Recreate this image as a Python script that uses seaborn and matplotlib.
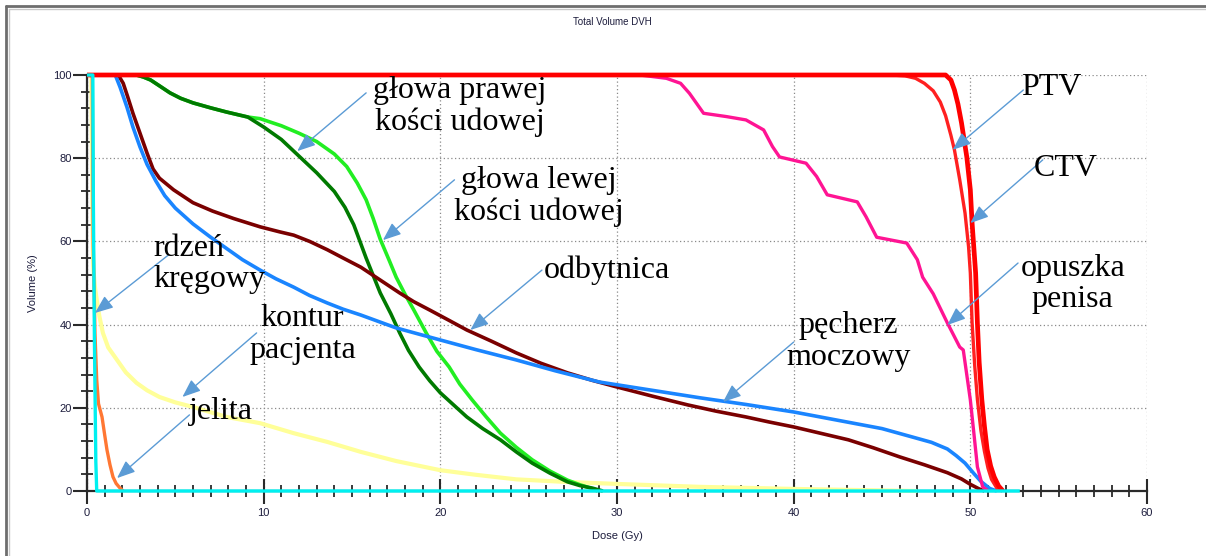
import matplotlib
matplotlib.use("Agg")
import matplotlib.pyplot as plt
from matplotlib.lines import Line2D
from matplotlib.ticker import MultipleLocator
import seaborn as sns

# Cumulative dose-volume histograms: dose (Gy) vs. volume (%) per structure
ptv_dose = [0, 45.5, 46.3, 46.9, 47.4, 47.9, 48.3, 48.6, 48.9, 49.1, 49.4, 49.7, 49.9, 50.0,
            50.1, 50.25, 50.4, 50.6, 50.8, 51.0, 51.2, 51.6]
ptv_vol = [100, 100, 99.8, 99.2, 98.0, 96.2, 93.5, 90.2, 85.5, 82.0, 74.8, 66.8, 58.7, 52.4,
           40.4, 30.0, 22.0, 14.5, 9.5, 5.5, 2.8, 0]

ctv_dose = [0, 48.6, 48.9, 49.1, 49.3, 49.5, 49.8, 50.0, 50.1, 50.3, 50.4, 50.5, 50.65, 50.8,
            50.95, 51.15, 51.35, 51.6, 51.85]
ctv_vol = [100, 100, 98.8, 96.4, 93.0, 88.5, 80.3, 72.4, 64.4, 52.4, 40.4, 31.0, 22.0, 15.5,
           10.0, 6.0, 3.4, 1.2, 0]

bulb_dose = [0, 31.3, 32.8, 33.6, 34.1, 34.5, 34.9, 36.2, 37.3, 38.3, 38.8, 39.2, 40.7, 41.3,
             41.9, 43.6, 44.1, 44.7, 46.4, 47.0, 47.3, 47.9, 48.7, 49.4, 49.6, 50.0, 50.2, 50.4,
             50.7, 51.0]
bulb_vol = [100, 100, 99.2, 98.0, 95.6, 93.2, 90.8, 90.0, 89.2, 86.8, 82.8, 80.3, 78.8, 75.6,
            71.2, 69.5, 65.9, 61.0, 59.6, 55.6, 51.4, 47.4, 40.4, 34.6, 33.9, 21.9, 13.9, 5.8,
            1.0, 0]

bladder_dose = [0, 1.6, 1.87, 2.26, 2.6, 3.0, 3.4, 3.9, 4.4, 5.0, 6.0, 7.0, 7.9, 8.8, 9.8, 10.7,
                11.7, 12.6, 13.6, 14.5, 15.5, 17.5, 20.0, 22.0, 24.3, 26.5, 29.0, 32.0, 34.7,
                37.3, 40.0, 43.0, 45.0, 46.7, 47.8, 48.7, 49.2, 49.7, 50.2, 50.6, 51.1, 51.5]
bladder_vol = [100, 100, 97.1, 92.3, 87.5, 82.7, 78.5, 74.5, 71.0, 68.0, 64.2, 61.0, 58.3, 55.6,
               53.1, 51.0, 49.0, 47.0, 45.2, 43.7, 42.3, 39.2, 36.3, 34.0, 31.5, 28.9, 26.2,
               24.2, 22.4, 20.8, 19.0, 16.6, 15.0, 13.0, 11.7, 10.1, 8.5, 6.7, 4.2, 2.3, 0.6, 0]

rectum_dose = [0, 1.77, 2.05, 2.3, 2.6, 3.0, 3.4, 3.74, 4.1, 4.9, 6.0, 7.1, 8.3, 9.8, 10.9, 11.7,
               12.6, 13.6, 14.5, 15.5, 16.6, 17.7, 18.5, 19.4, 20.5, 21.5, 22.9, 24.3, 25.7,
               27.2, 28.6, 30.0, 32.0, 34.0, 35.6, 37.3, 38.6, 40.0, 41.5, 43.1, 44.5, 46.0,
               47.4, 48.7, 49.5, 50.0, 50.5, 50.8]
rectum_vol = [100, 100, 98.0, 94.8, 90.8, 86.0, 81.2, 77.4, 75.2, 72.4, 69.3, 67.3, 65.5, 63.5,
              62.3, 61.5, 60.0, 58.0, 56.0, 53.8, 50.7, 47.6, 45.5, 43.5, 41.0, 38.7, 36.0,
              33.2, 30.7, 28.4, 26.6, 25.0, 22.8, 20.7, 19.2, 17.8, 16.6, 15.4, 13.9, 12.3,
              10.4, 8.2, 6.3, 4.4, 2.9, 1.6, 0.5, 0]

femur_r_dose = [0, 2.8, 3.2, 3.6, 4.1, 4.7, 5.3, 6.0, 7.0, 7.9, 9.1, 10.0, 11.0, 12.0, 13.0,
                14.0, 14.6, 15.1, 15.8, 16.6, 17.2, 17.7, 18.2, 18.8, 19.4, 20.0, 20.8, 21.5,
                22.4, 23.4, 24.3, 25.2, 26.2, 27.2, 27.9, 28.6, 29.2]
femur_r_vol = [100, 100, 99.5, 98.8, 97.4, 95.7, 94.4, 93.3, 92.1, 91.1, 89.9, 87.5, 84.5, 80.5,
               76.5, 72.0, 68.2, 64.0, 56.0, 47.6, 42.6, 38.0, 33.8, 29.8, 26.5, 23.6, 20.5,
               17.8, 15.0, 12.3, 9.4, 6.7, 4.3, 2.2, 1.3, 0.7, 0]

femur_l_dose = [0, 2.8, 3.2, 3.6, 4.1, 4.7, 5.3, 6.0, 7.0, 7.9, 9.1, 9.8, 11.0, 12.0, 13.0, 14.0,
                14.7, 15.3, 15.8, 16.2, 16.6, 17.1, 17.5, 18.0, 18.5, 19.2, 19.8, 20.5, 21.1,
                21.8, 22.6, 23.4, 24.3, 25.2, 26.2, 27.2, 27.9, 28.5, 28.9]
femur_l_vol = [100, 100, 99.5, 98.8, 97.4, 95.7, 94.4, 93.3, 92.1, 91.1, 89.9, 89.5, 87.8, 86.0,
               84.0, 81.0, 78.0, 74.0, 70.0, 65.5, 60.5, 55.5, 51.4, 47.3, 43.5, 38.0, 33.6,
               29.8, 25.7, 21.9, 17.8, 13.9, 10.5, 7.5, 4.8, 2.6, 1.5, 0.7, 0]

body_dose = [0, 0.25, 0.3, 0.35, 0.45, 0.55, 0.7, 0.9, 1.2, 1.7, 2.2, 2.8, 3.4, 4.1, 5.0, 6.0,
             7.9, 9.8, 11.7, 13.6, 15.5, 17.5, 20.0, 22.0, 24.3, 27.0, 30.0, 34.7, 40.0, 47.0]
body_vol = [100, 100, 70, 54, 49, 46, 42, 38, 34.5, 31.5, 28.5, 26.0, 24.2, 22.6, 21.3, 20.2,
            17.8, 16.3, 13.9, 11.8, 9.4, 7.2, 5.0, 3.9, 2.8, 2.2, 1.7, 1.0, 0.5, 0]

bowel_dose = [0, 0.3, 0.35, 0.45, 0.55, 0.65, 0.85, 1.0, 1.13, 1.3, 1.47, 1.65, 1.87, 2.05]
bowel_vol = [100, 100, 60, 38, 26.7, 21.0, 17.8, 13.5, 9.9, 6.3, 3.4, 1.8, 0.7, 0]

cord_dose = [0, 0.33, 0.36, 0.42, 0.5, 0.55, 52.8]
cord_vol = [100, 100, 70, 36, 7, 0, 0]

# (dose, volume, colour, line width, z-order)
curves = [
    (body_dose, body_vol, "#ffff99", 3.0, 2),
    (bowel_dose, bowel_vol, "#ff7733", 2.4, 3),
    (femur_l_dose, femur_l_vol, "#22ee22", 2.6, 4),
    (femur_r_dose, femur_r_vol, "#007a00", 2.6, 5),
    (rectum_dose, rectum_vol, "#7a0000", 2.6, 6),
    (bladder_dose, bladder_vol, "#1a85ff", 2.6, 7),
    (bulb_dose, bulb_vol, "#ff1493", 2.4, 8),
    (ptv_dose, ptv_vol, "#ff2020", 2.4, 9),
    (ctv_dose, ctv_vol, "#ff0000", 3.4, 10),
    (cord_dose, cord_vol, "#00f0f0", 2.4, 11),
]

# Labels: (text, text position, arrow tail, arrow head, horizontal alignment)
labels = [
    ("głowa prawej\nkości udowej", (21.1, 92.4), (15.8, 95.7), (11.9, 81.7), "center"),
    ("głowa lewej\nkości udowej", (25.6, 70.8), (20.8, 74.8), (16.75, 60.3), "center"),
    ("odbytnica", (29.4, 53.1), (25.75, 53.1), (21.7, 38.7), "center"),
    ("rdzeń\nkręgowy", (3.74, 54.6), (4.6, 56.7), (0.45, 42.8), "left"),
    ("kontur\npacjenta", (12.2, 37.6), (9.6, 38.0), (5.4, 22.6), "center"),
    ("jelita", (7.6, 19.0), (5.8, 18.3), (1.7, 3.1), "center"),
    ("pęcherz\nmoczowy", (43.1, 35.9), (40.0, 35.8), (36.0, 21.4), "center"),
    ("PTV", (54.6, 96.9), (53.0, 96.4), (49.0, 82.0), "center"),
    ("CTV", (55.4, 77.6), (54.1, 79.6), (50.0, 64.4), "center"),
    ("opuszka\npenisa", (55.8, 49.8), (52.7, 54.8), (48.7, 39.9), "center"),
]

x_major, x_minor = 10, 1
y_major, y_minor = 20, 4

sns.set_theme(style="ticks")
plt.rcParams["font.family"] = ["Liberation Sans", "DejaVu Sans"]

W, H, DPI = 1206, 556, 100
fig = plt.figure(figsize=(W / DPI, H / DPI), dpi=DPI)
fig.patch.set_facecolor("white")
ax = fig.add_axes([87 / W, 1 - 491 / H, (1147 - 87) / W, (491 - 75) / H])
ax.set_facecolor("white")

for dose, vol, color, lw, z in curves:
    sns.lineplot(x=dose, y=vol, ax=ax, color=color, linewidth=lw, sort=False,
                 estimator=None, zorder=z, clip_on=False,
                 solid_joinstyle="round", solid_capstyle="butt")

ax.set_xlim(0, 60)
ax.set_ylim(0, 100)
ax.xaxis.set_major_locator(MultipleLocator(x_major))
ax.xaxis.set_minor_locator(MultipleLocator(x_minor))
ax.yaxis.set_major_locator(MultipleLocator(y_major))
ax.yaxis.set_minor_locator(MultipleLocator(y_minor))

ax.grid(True, which="major", linestyle=(0, (1, 2)), color="#8a8a8a", linewidth=0.9, zorder=0)
ax.grid(False, which="minor")
ax.set_axisbelow(True)

for side in ("top", "right"):
    ax.spines[side].set_visible(False)
for side in ("left", "bottom"):
    ax.spines[side].set_color("#2a2a2a")
    ax.spines[side].set_linewidth(1.6)
    ax.spines[side].set_zorder(1)

tick_color = "#1c1c3c"
ax.tick_params(axis="x", which="major", direction="inout", length=18, width=1.5,
               color="#2a2a2a", labelsize=8, labelcolor=tick_color, pad=3)
ax.tick_params(axis="x", which="minor", direction="inout", length=9, width=1.3, color="#2a2a2a")
ax.tick_params(axis="y", which="major", direction="out", length=10, width=1.5,
               color="#2a2a2a", labelsize=8, labelcolor=tick_color, pad=1)
ax.tick_params(axis="y", which="minor", direction="inout", length=8, width=1.3, color="#2a2a2a")

ax.set_xlabel("Dose (Gy)", fontsize=8, color=tick_color)
ax.set_ylabel("Volume (%)", fontsize=8, color=tick_color)
ax.xaxis.set_label_coords(0.5, -(531 - 491) / 416)
ax.yaxis.set_label_coords((38 - 87) / 1060, 0.5)

fig.text(612 / W, 1 - 22 / H, "Total Volume DVH", fontsize=7, color=tick_color,
         ha="center", va="center")

arrow_color = "#5b9bd5"
for text, pos, tail, head, ha in labels:
    ax.annotate("", xy=head, xytext=tail, annotation_clip=False,
                arrowprops=dict(arrowstyle="-|>,head_length=0.55,head_width=0.22",
                                color=arrow_color, lw=1.0, mutation_scale=20,
                                shrinkA=0, shrinkB=0), zorder=20)
    ax.text(pos[0], pos[1], text, fontsize=23, family=["Liberation Serif", "DejaVu Serif"],
            ha=ha, va="center", multialignment="center" if ha == "center" else "left",
            linespacing=1.12, color="black", clip_on=False, zorder=21)

# window frame along the left and top edges
for coords, col, lw in [(([6, 6], [0, H - 6]), "#6e6e6e", 2.0),
                        (([6, W], [H - 6, H - 6]), "#6e6e6e", 2.0),
                        (([9, 9], [0, H - 9]), "#c8c8c8", 1.0),
                        (([9, W], [H - 9, H - 9]), "#c8c8c8", 1.0)]:
    xs, ys = coords
    fig.add_artist(Line2D([x / W for x in xs], [y / H for y in ys],
                          color=col, linewidth=lw, transform=fig.transFigure))

fig.savefig("out.png", dpi=DPI, facecolor="white")
